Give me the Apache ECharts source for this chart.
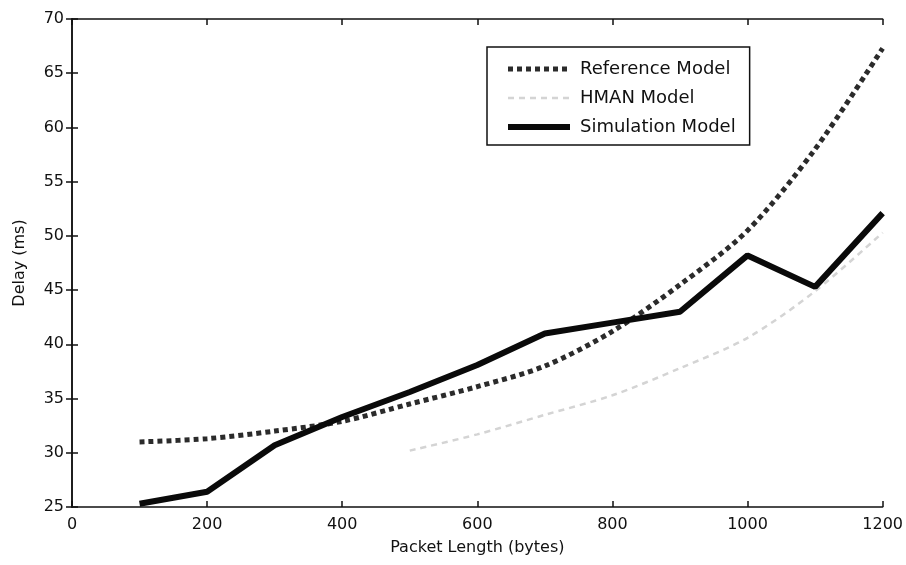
<!DOCTYPE html>
<html>
<head>
<meta charset="utf-8">
<script src="https://cdn.jsdelivr.net/npm/echarts@6/dist/echarts.min.js"></script>
<style>
html,body{margin:0;padding:0;background:#fff;}
#chart{width:906px;height:565px;}
</style>
</head>
<body>
<div id="chart"></div>
<script>
const packetLengths = [100, 200, 300, 400, 500, 600, 700, 800, 900, 1000, 1100, 1200];
const referenceModel = [31.0, 31.3, 32.0, 32.9, 34.5, 36.1, 38.0, 41.2, 45.5, 50.5, 58.0, 67.3];
const hmanModel = [null, null, null, null, 30.2, 31.7, 33.5, 35.3, 37.8, 40.6, 44.9, 50.3];
const simulationModel = [25.3, 26.4, 30.7, 33.3, 35.6, 38.1, 41.0, 42.0, 43.0, 48.2, 45.3, 52.1];
const xTicks = [0, 200, 400, 600, 800, 1000, 1200];
const yTicks = [25, 30, 35, 40, 45, 50, 55, 60, 65, 70];

const pairs = arr => packetLengths.map((x, i) => [x, arr[i]]);
const FONT = 'DejaVu Sans';

const refStyle = {color: '#2b2b2b', width: 5, type: [5, 4]};
const hmanStyle = {color: '#d4d4d4', width: 2.5, type: [6, 5]};
const simStyle = {color: '#0a0a0a', width: 6};

const chart = echarts.init(document.getElementById('chart'), null, {renderer: 'canvas'});
const axisLineStyle = {show: true, lineStyle: {color: '#111', width: 1.5}};
chart.setOption({
  backgroundColor: '#fff',
  animation: false,
  grid: {left: 72, right: 23, top: 19, bottom: 58},
  legend: {
    orient: 'vertical',
    left: 487, top: 47,
    padding: [13, 14, 9, 18],
    itemWidth: 62, itemHeight: 16, itemGap: 11,
    borderColor: '#111', borderWidth: 1.5,
    backgroundColor: '#fff',
    itemStyle: {opacity: 0},
    textStyle: {fontFamily: FONT, fontSize: 18, color: '#111', padding: [0, 0, 0, 5]},
    data: [
      {name: 'Reference Model', lineStyle: refStyle},
      {name: 'HMAN Model', lineStyle: hmanStyle},
      {name: 'Simulation Model', lineStyle: simStyle}
    ]
  },
  xAxis: [{
    type: 'value', min: xTicks[0], max: xTicks[xTicks.length - 1], interval: 200,
    name: 'Packet Length (bytes)', nameLocation: 'middle', nameGap: 33,
    nameTextStyle: {fontFamily: FONT, fontSize: 16, color: '#111'},
    axisLine: axisLineStyle,
    axisTick: {show: true, inside: true, length: 6, lineStyle: {color: '#111', width: 1.5}},
    axisLabel: {fontFamily: FONT, fontSize: 16, color: '#111', margin: 10, formatter: v => String(v)},
    splitLine: {show: false}
  }, {
    type: 'value', position: 'top', min: 0, max: 1200, interval: 200,
    axisLine: axisLineStyle,
    axisTick: {show: true, inside: true, length: 6, lineStyle: {color: '#111', width: 1.5}},
    axisLabel: {show: false}, splitLine: {show: false}
  }],
  yAxis: [{
    type: 'value', min: yTicks[0], max: yTicks[yTicks.length - 1], interval: 5,
    name: 'Delay (ms)', nameLocation: 'middle', nameGap: 44,
    nameTextStyle: {fontFamily: FONT, fontSize: 16, color: '#111'},
    axisLine: axisLineStyle,
    axisTick: {show: true, inside: true, length: 6, lineStyle: {color: '#111', width: 1.5}},
    axisLabel: {fontFamily: FONT, fontSize: 16, color: '#111', margin: 8, formatter: v => String(v)},
    splitLine: {show: false}
  }, {
    type: 'value', position: 'right', min: 25, max: 70, interval: 5,
    axisLine: axisLineStyle,
    axisTick: {show: true, inside: true, length: 6, lineStyle: {color: '#111', width: 1.5}},
    axisLabel: {show: false}, splitLine: {show: false}
  }],
  series: [{
    name: 'Reference Model', type: 'line', smooth: 0.3, symbol: 'none',
    data: pairs(referenceModel),
    lineStyle: refStyle,
    itemStyle: {color: refStyle.color},
    z: 3
  }, {
    name: 'HMAN Model', type: 'line', smooth: 0.3, symbol: 'none',
    data: pairs(hmanModel),
    lineStyle: hmanStyle,
    itemStyle: {color: hmanStyle.color},
    z: 2
  }, {
    name: 'Simulation Model', type: 'line', symbol: 'none',
    data: pairs(simulationModel),
    lineStyle: simStyle,
    itemStyle: {color: simStyle.color},
    z: 4
  }]
});
</script>
</body>
</html>
